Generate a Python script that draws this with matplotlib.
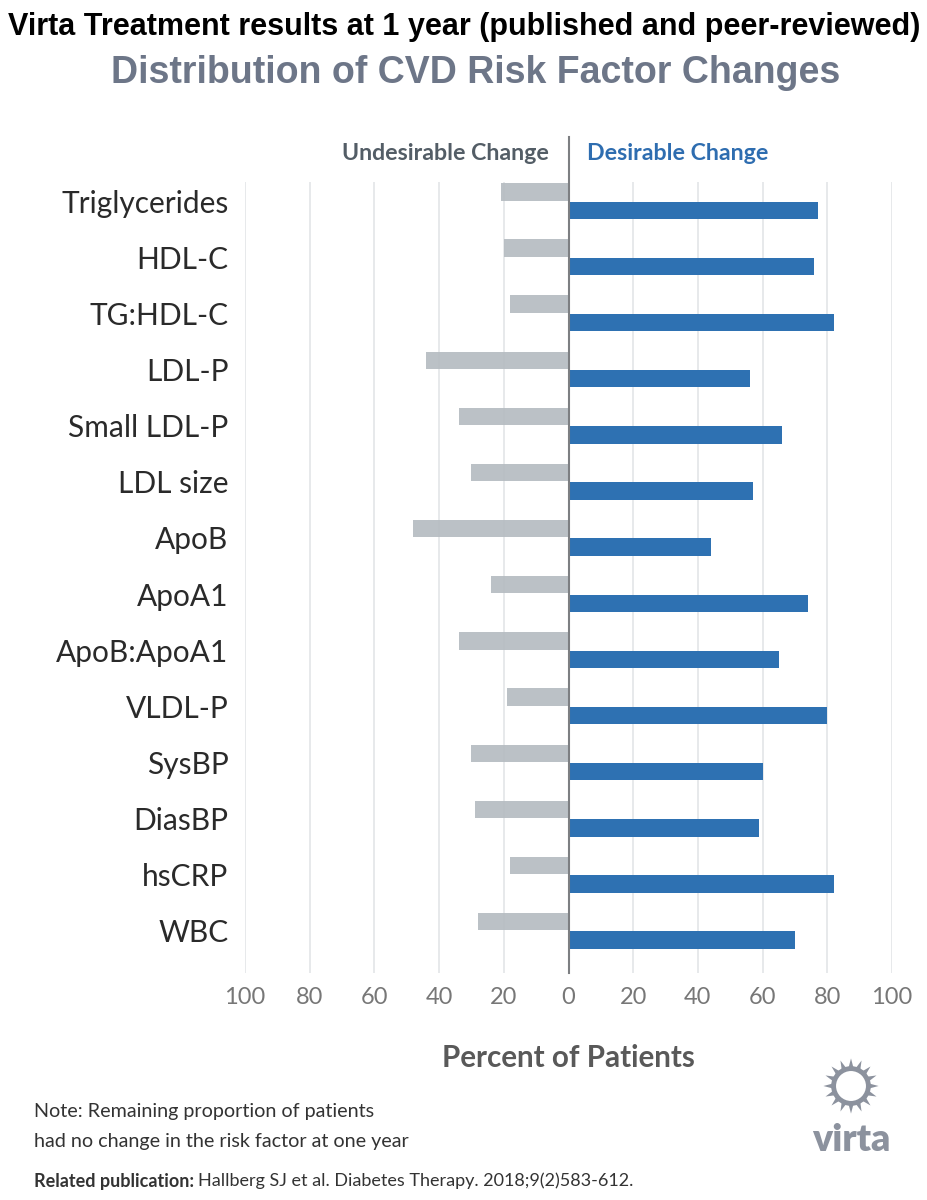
import numpy as np
import matplotlib.pyplot as plt
from matplotlib.patches import Circle, Polygon

# risk factors, top to bottom
factors = ['Triglycerides', 'HDL-C', 'TG:HDL-C', 'LDL-P', 'Small LDL-P', 'LDL size',
           'ApoB', 'ApoA1', 'ApoB:ApoA1', 'VLDL-P', 'SysBP', 'DiasBP', 'hsCRP', 'WBC']
# percent of patients
undesirable = [21, 20, 18, 44, 34, 30, 48, 24, 34, 19, 30, 29, 18, 28]
desirable = [77, 76, 82, 56, 66, 57, 44, 74, 65, 80, 60, 59, 82, 70]
ticks = [-100, -80, -60, -40, -20, 0, 20, 40, 60, 80, 100]
tick_labels = [str(abs(t)) for t in ticks]

W, H = 927, 1200
blue = '#2e71b2'
grey = '#b4bbc0'

plt.rcParams['font.family'] = ['Lato', 'DejaVu Sans']
fig = plt.figure(figsize=(W / 100, H / 100), dpi=100)

def fx(x):
    return x / W

def fy(y):
    return 1 - y / H

# axes: x -100..100 -> 245..892 px, rows 182..973 px
ax = fig.add_axes([fx(245), fy(973), fx(892) - fx(245), (973 - 182) / H])
y = np.arange(len(factors))
ax.barh(y - 0.165, [-v for v in undesirable], height=0.31, color=grey, alpha=0.9, zorder=2)
ax.barh(y + 0.165, desirable, height=0.31, color=blue, zorder=3)

ax.set_xlim(-100, 100)
ax.set_ylim(13.75, -0.34)
ax.set_xticks(ticks)
ax.set_xticklabels(tick_labels, fontsize=17, color='#777777')
ax.set_yticks(y)
ax.set_yticklabels(factors, fontsize=21.5, color='#2a2a2a')
ax.tick_params(axis='both', length=0)
ax.tick_params(axis='x', pad=10)
ax.tick_params(axis='y', pad=12)
for t in ticks:
    if t != 0:
        ax.axvline(t, color='#e3e5e8', lw=1.2, zorder=1)
ax.plot([0, 0], [13.75, -1.15], color='#7d7f82', lw=1.5, clip_on=False, zorder=4)
for s in ax.spines.values():
    s.set_visible(False)

ax.text(-6, -0.84, 'Undesirable Change', ha='right', va='center', fontsize=16.7,
        fontweight='bold', color='#535d66')
ax.text(5.8, -0.84, 'Desirable Change', ha='left', va='center', fontsize=16.7,
        fontweight='bold', color='#2e6db0')

fig.text(fx(568), fy(1058), 'Percent of Patients', ha='center', va='center', fontsize=21.3,
         fontweight='bold', color='#595959')

# titles
fig.text(fx(464), fy(27), 'Virta Treatment results at 1 year (published and peer-reviewed)',
         ha='center', va='center', fontsize=22, fontweight='bold', color='black',
         family=['Liberation Sans Narrow', 'Liberation Sans', 'DejaVu Sans'])
fig.text(fx(476), fy(73), 'Distribution of CVD Risk Factor Changes', ha='center', va='center',
         fontsize=27, fontweight='bold', color='#6d7688',
         family=['Liberation Sans Narrow', 'Liberation Sans', 'DejaVu Sans'])

# footnotes
fig.text(fx(34), fy(1111), 'Note: Remaining proportion of patients', ha='left', va='center',
         fontsize=14.2, color='#333333')
fig.text(fx(34), fy(1141), 'had no change in the risk factor at one year', ha='left', va='center',
         fontsize=14.2, color='#333333')
t1 = fig.text(fx(34), fy(1181), 'Related publication:', ha='left', va='center', fontsize=13,
              fontweight='bold', color='#333333')
fig.canvas.draw()
bb = t1.get_window_extent()
fig.text(bb.x1 / W + 0.004, fy(1181), 'Hallberg SJ et al. Diabetes Therapy. 2018;9(2)583-612.',
         ha='left', va='center', fontsize=13, color='#333333')

# virta logo
logo_c = '#8c929e'
lax = fig.add_axes([fx(821), fy(1116), 60 / W, 60 / H])
lax.set_xlim(-1, 1)
lax.set_ylim(-1, 1)
lax.set_aspect('equal')
lax.axis('off')
lax.add_patch(Circle((0, 0), 0.58, fill=False, lw=3.5, color=logo_c))
for a in np.linspace(0, 2 * np.pi, 16, endpoint=False):
    r0, r1, da = 0.62, 0.92, 0.13
    pts = [(r0 * np.cos(a - da), r0 * np.sin(a - da)),
           (r1 * np.cos(a), r1 * np.sin(a)),
           (r0 * np.cos(a + da), r0 * np.sin(a + da))]
    lax.add_patch(Polygon(pts, closed=True, color=logo_c, lw=0))
fig.text(fx(851), fy(1140), 'virta', ha='center', va='center', fontsize=27, fontweight='heavy',
         color=logo_c, family=['Liberation Sans Narrow', 'Lato', 'DejaVu Sans'])

fig.savefig('out.png', dpi=100)
